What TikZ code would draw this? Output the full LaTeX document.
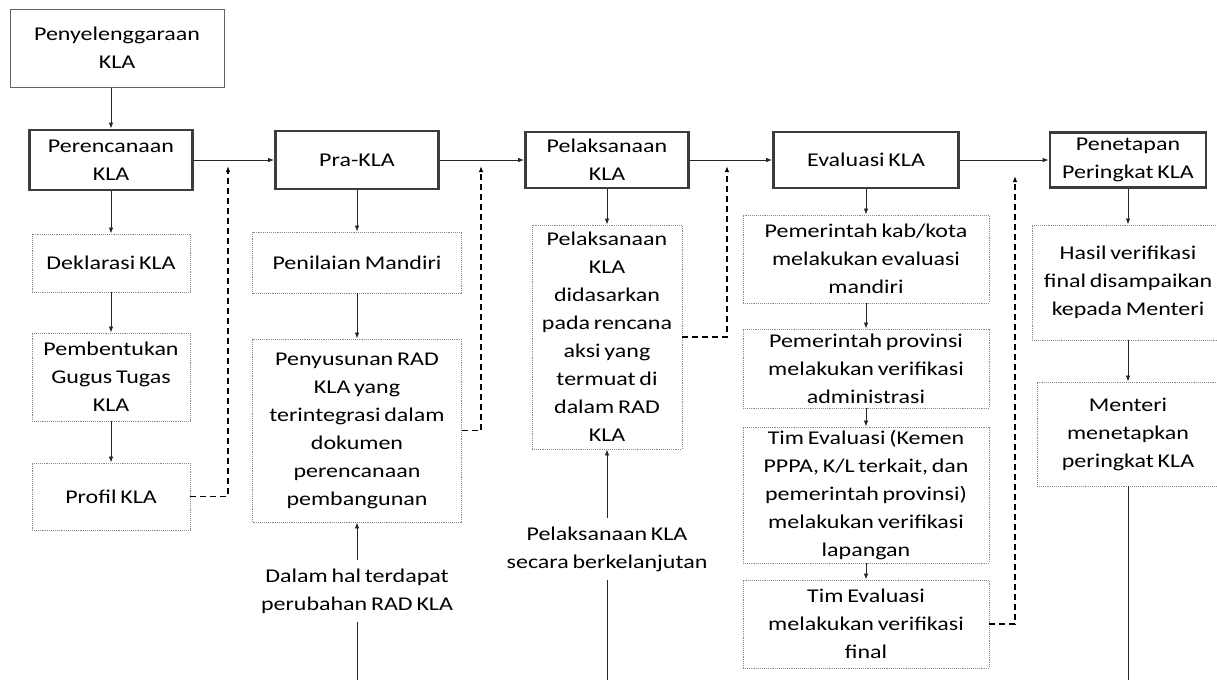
\documentclass[tikz,border=0pt]{standalone}
\usepackage{fontspec}
\setmainfont{Carlito}[FakeStretch=1.23,WordSpace=0.7]
\usetikzlibrary{arrows.meta}
\definecolor{frameGray}{HTML}{3C3C3C}
\definecolor{dotGray}{HTML}{8A8A8A}

\begin{document}
\begin{tikzpicture}[x=1pt, y=-1pt,
    font=\fontsize{19.5}{28}\selectfont,
    >={Latex[length=6pt,width=4.5pt]},
    box/.style={inner sep=0pt, align=center, text=black},
    mainbox/.style={box, draw=frameGray, line width=2.8pt},
    subbox/.style={box, draw=dotGray, densely dotted, line width=0.9pt},
    topbox/.style={box, draw=frameGray!80, line width=1pt},
    note/.style={align=center, inner sep=8pt, text=black},
    link/.style={->, draw=black!85, line width=0.8pt},
    back/.style={->, draw=black, line width=1.4pt, dash pattern=on 6pt off 4pt}]

    \useasboundingbox (0,0) rectangle (1217,680);
    \clip (0,0) rectangle (1217,680);

    % main stages
    \node[topbox, minimum width=214pt, minimum height=78pt] (top) at (117,48) {Penyelenggaraan\\KLA};
    \node[mainbox, minimum width=163pt, minimum height=60pt] (plan) at (111,160) {Perencanaan\\KLA};
    \node[mainbox, minimum width=163pt, minimum height=58pt] (pra) at (357,160) {Pra-KLA};
    \node[mainbox, minimum width=163pt, minimum height=56pt] (laks) at (607,160) {Pelaksanaan\\KLA};
    \node[mainbox, minimum width=185pt, minimum height=56pt] (eval) at (866,160) {Evaluasi KLA};
    \node[mainbox, minimum width=156pt, minimum height=55pt] (tetap) at (1128,160) {Penetapan\\Peringkat KLA};

    % steps
    \node[subbox, minimum width=158pt, minimum height=58pt] (dekl) at (111,263) {Deklarasi KLA};
    \node[subbox, minimum width=158pt, minimum height=88pt] (gugus) at (111,377) {Pembentukan\\Gugus Tugas\\KLA};
    \node[subbox, minimum width=158pt, minimum height=67pt] (profil) at (111,496.5) {Profil KLA};

    \node[subbox, minimum width=209pt, minimum height=61pt] (nilai) at (357,262.5) {Penilaian Mandiri};
    \node[subbox, minimum width=209pt, minimum height=183pt] (susun) at (357,430.5)
        {Penyusunan RAD\\KLA yang\\terintegrasi dalam\\dokumen\\perencanaan\\pembangunan};

    \node[subbox, minimum width=150pt, minimum height=224pt] (rencana) at (607,337)
        {Pelaksanaan\\KLA\\didasarkan\\pada rencana\\aksi yang\\termuat di\\dalam RAD\\KLA};

    \node[subbox, minimum width=246pt, minimum height=88pt] (ev1) at (866,259) {Pemerintah kab/kota\\melakukan evaluasi\\mandiri};
    \node[subbox, minimum width=246pt, minimum height=79pt] (ev2) at (866,368.5) {Pemerintah provinsi\\melakukan verifikasi\\administrasi};
    \node[subbox, minimum width=246pt, minimum height=136pt] (ev3) at (866,495)
        {Tim Evaluasi (Kemen\\PPPA,  K/L terkait, dan\\pemerintah provinsi)\\melakukan verifikasi\\lapangan};
    \node[subbox, minimum width=246pt, minimum height=88pt] (ev4) at (866,624) {Tim Evaluasi\\melakukan verifikasi\\final};

    \node[subbox, minimum width=192pt, minimum height=115pt] (hasil) at (1128,282.5) {Hasil verifikasi\\final disampaikan\\kepada Menteri};
    \node[subbox, minimum width=182pt, minimum height=104pt] (menteri) at (1128,434) {Menteri\\menetapkan\\peringkat KLA};

    % notes under the columns
    \node[note] (dalam) at (357,591) {Dalam hal terdapat\\perubahan RAD KLA};
    \node[note] (lanjut) at (607,549) {Pelaksanaan KLA\\secara berkelanjutan};

    \coordinate (dalamEnd) at (357,680);
    \coordinate (lanjutEnd) at (607,680);
    \coordinate (menteriEnd) at (1128,680);
    \coordinate (back1) at (228,166);
    \coordinate (back2) at (481,166);
    \coordinate (back3) at (727,166);
    \coordinate (back4) at (1015,176);

    % flow
    \draw[link] (top.south -| plan.north) -- (plan.north);
    \foreach \a/\b in {plan/pra, pra/laks, laks/eval, eval/tetap}
        \draw[link] (\a.east) -- (\b.west);
    \foreach \a/\b in {plan/dekl, dekl/gugus, gugus/profil, pra/nilai, nilai/susun,
                       laks/rencana, eval/ev1, ev1/ev2, ev2/ev3, ev3/ev4, tetap/hasil, hasil/menteri}
        \draw[link] (\a.south) -- (\b.north);

    \draw[link] (dalam.north) -- (susun.south);
    \draw[link] (lanjut.north) -- (rencana.south);
    \draw[black!85, line width=0.8pt] (dalam.south) -- (dalamEnd);
    \draw[black!85, line width=0.8pt] (lanjut.south) -- (lanjutEnd);
    \draw[black!85, line width=0.8pt] (menteri.south) -- (menteriEnd);

    % feedback into the main line
    \draw[back] (profil.east) -| (back1);
    \draw[back] (susun.east) -| (back2);
    \draw[back] (rencana.east) -| (back3);
    \draw[back] (ev4.east) -| (back4);
\end{tikzpicture}
\end{document}
